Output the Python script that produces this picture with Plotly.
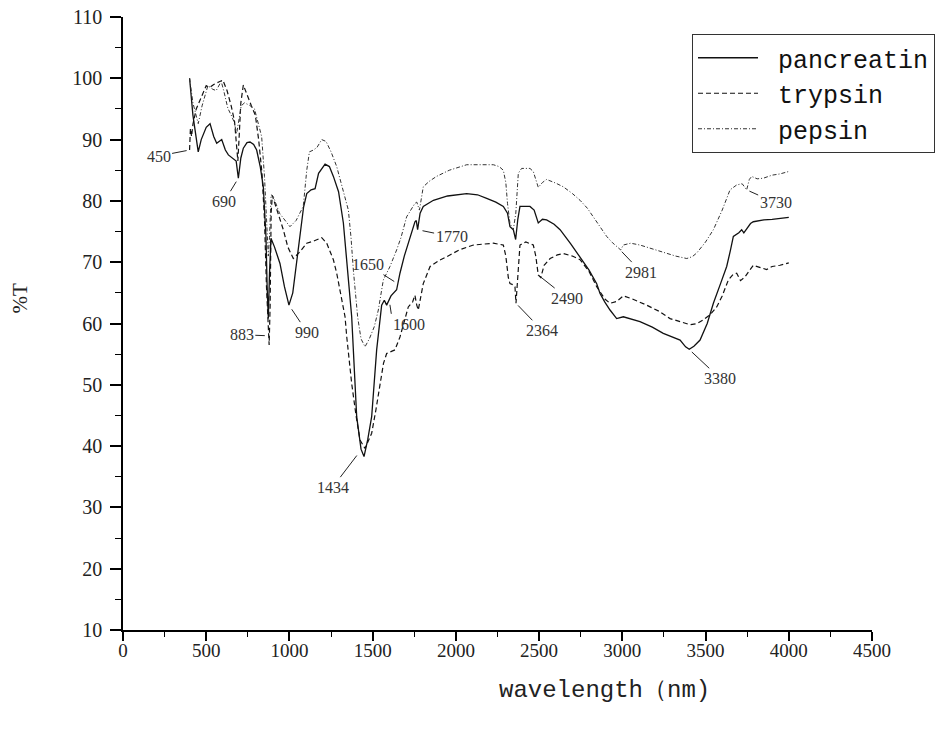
import plotly.graph_objects as go

# ---------------- data ----------------
panc_x = [400, 420, 452, 470, 500, 523, 545, 563, 593, 615, 633, 663, 680, 693, 708, 723, 745, 763, 785, 803,
          825, 843, 859, 866, 873, 880, 889, 910, 943, 970, 997, 1020, 1040, 1063, 1085, 1104, 1130, 1154, 1175,
          1214, 1240, 1264, 1295, 1324, 1350, 1374, 1404, 1430, 1448, 1470, 1494, 1524, 1554, 1570, 1584, 1610,
          1644, 1664, 1690, 1714, 1740, 1754, 1762, 1770, 1785, 1804, 1865, 1950, 2065, 2130, 2185, 2240, 2285,
          2310, 2325, 2345, 2359, 2372, 2385, 2445, 2470, 2495, 2520, 2545, 2590, 2626, 2690, 2746, 2800, 2846,
          2866, 2895, 2926, 2966, 3006, 3106, 3180, 3246, 3300, 3347, 3380, 3402, 3430, 3467, 3510, 3547, 3590,
          3627, 3650, 3667, 3700, 3717, 3730, 3747, 3770, 3787, 3850, 3900, 3947, 4000]
panc_y = [100, 94, 88, 90, 92, 92.6, 90.5, 89.4, 90.0, 88.3, 87.5, 86.9, 86.5, 83.7, 87, 88.6, 89.5, 89.6, 89.2, 88.3,
          85.5, 82.3, 74.2, 66, 60.8, 68, 73.9, 72.5, 69.8, 66, 63.0, 65, 69.5, 74.2, 79, 81.2, 81.8, 82.0, 84.5,
          86.0, 85.6, 84.0, 81.5, 76.4, 69, 61.1, 44.8, 39.5, 38.3, 41, 44.8, 55.7, 63.0, 63.8, 63.0, 64.5,
          65.5, 68.2, 71, 73.1, 75.5, 76.6, 76.8, 75.3, 78, 79.1, 80.1, 80.8, 81.2, 81, 80.4, 79.8, 79.1,
          78, 75.8, 75.3, 73.7, 77, 79.1, 79.1, 78.5, 76.4, 77, 76.9, 76.2, 75.3, 73, 70.9, 68.7, 66.5,
          64.9, 63.5, 62.2, 60.8, 61.1, 60.3, 59.4, 58.4, 57.8, 57.3, 56.2, 55.8, 56.3, 57.3, 60, 63.3, 66.5,
          69.3, 72, 74.2, 74.8, 75.3, 74.8, 75.5, 76.3, 76.6, 76.9, 77, 77.1, 77.3]

tryp_x = [400, 405, 412, 420, 440, 470, 500, 520, 545, 575, 600, 625, 650, 670, 685, 690, 697, 708, 723, 745,
          770, 795, 815, 835, 850, 862, 872, 878, 884, 890, 897, 920, 963, 990, 1023, 1063, 1104, 1150, 1194,
          1224, 1264, 1284, 1310, 1334, 1344, 1374, 1400, 1424, 1454, 1494, 1520, 1544, 1565, 1584, 1610, 1634,
          1664, 1690, 1714, 1740, 1754, 1765, 1774, 1790, 1804, 1845, 1900, 1945, 2020, 2105, 2225, 2285, 2300,
          2315, 2325, 2345, 2355, 2361, 2372, 2385, 2420, 2465, 2480, 2495, 2510, 2530, 2566, 2610, 2646, 2700,
          2746, 2800, 2846, 2866, 2895, 2926, 2966, 3006, 3060, 3146, 3220, 3287, 3350, 3407, 3450, 3487, 3530,
          3567, 3600, 3637, 3665, 3687, 3710, 3737, 3760, 3787, 3820, 3867, 3900, 3947, 4000]
tryp_y = [88.3, 91.8, 90.5, 92.5, 95, 97, 98.8, 98.5, 99, 99.4, 99.7, 98, 95.5, 93, 88, 86.5, 90, 96, 98.9, 97.5,
          95.6, 94, 90, 84.5, 77, 66, 59, 56.5, 63, 78, 80.9, 79, 75.3, 72.5, 70.6, 71.7, 73.1, 73.5, 74.0,
          73.1, 70.4, 68.2, 64.5, 61.1, 57.9, 50.2, 45, 41, 39.6, 42.1, 46, 50.2, 53.5, 55.1, 55.4, 55.7,
          57.8, 60.5, 62.7, 63.5, 64.6, 63, 62.2, 64.5, 66.5, 69.3, 70.3, 70.9, 72, 72.8, 73.1, 72.8, 71,
          67.5, 66.5, 66.3, 66, 63.3, 68, 72.8, 73.3, 72.8, 71, 67.9, 67.5, 69.5, 70.6, 71.2, 71.4, 71,
          70.4, 68.5, 66, 65.2, 64, 63.3, 63.6, 64.5, 64, 63, 62, 60.8, 60.3, 59.8, 60, 60.6, 61.5,
          62.7, 64.5, 67.1, 68, 68.2, 67, 67.6, 68.5, 69.5, 69.2, 68.8, 69.3, 69.5, 69.9]

peps_x = [400, 420, 452, 475, 510, 540, 560, 575, 590, 605, 630, 650, 667, 683, 695, 710, 730, 760, 790, 810,
          833, 850, 862, 873, 880, 890, 903, 940, 1003, 1040, 1083, 1104, 1120, 1144, 1165, 1194, 1220, 1250,
          1284, 1320, 1354, 1370, 1384, 1410, 1430, 1454, 1480, 1510, 1534, 1564, 1604, 1644, 1670, 1704, 1735,
          1754, 1765, 1781, 1795, 1804, 1840, 1884, 1960, 2065, 2225, 2260, 2285, 2300, 2310, 2325, 2345, 2360,
          2375, 2395, 2445, 2465, 2480, 2495, 2520, 2545, 2600, 2645, 2700, 2746, 2790, 2826, 2870, 2906, 2940,
          2976, 2990, 3006, 3050, 3106, 3180, 3246, 3320, 3387, 3420, 3447, 3500, 3547, 3600, 3647, 3687, 3720,
          3747, 3763, 3777, 3810, 3847, 3900, 3947, 4000]
peps_y = [100, 96, 92.6, 95.5, 98.8, 98.2, 98.0, 98.8, 99.5, 98, 95.1, 94, 92.9, 91, 93, 95.5, 96.0, 95.6, 95, 93,
          90.5, 84, 77, 71, 74, 81, 80.7, 78, 75.8, 76.8, 79.1, 85, 88, 88.3, 88.7, 90, 89.7, 88,
          85.6, 82, 78.5, 74, 68.7, 61, 57.5, 56.2, 57.5, 59.5, 62.2, 67.1, 69.3, 72, 74, 77.4, 78.8,
          79.6, 79.8, 78.5, 80.8, 82.3, 83.2, 84, 85, 85.9, 85.9, 85.6, 85, 83, 79.6, 76.3, 75.3, 78,
          84.5, 85.3, 85.3, 84.8, 83.5, 82.2, 83, 83.5, 82.9, 82.3, 81.2, 80.1, 78.8, 77.4, 75.6, 74.2, 73.2,
          72.3, 72, 72.8, 73.1, 72.8, 72.2, 71.7, 71, 70.6, 70.9, 71.5, 73.3, 75.3, 78.5, 81.8, 82.6, 82.8,
          81.8, 83.5, 84, 83.6, 83.7, 84.2, 84.4, 84.8]

series_names = ["pancreatin", "trypsin", "pepsin"]

# peak labels: text, target x, target y
peak_text = ["450", "690", "883", "990", "1434", "1650", "1600", "1770", "2364", "2490", "2981", "3380", "3730"]
peak_x = [400, 693, 870, 997, 1434, 1650, 1600, 1770, 2361, 2495, 2976, 3400, 3747]
peak_y = [88.3, 83.7, 58, 63.0, 39.5, 66.5, 63.7, 75.3, 63.3, 67.9, 72.3, 55.8, 81.8]

x_ticks = [0, 500, 1000, 1500, 2000, 2500, 3000, 3500, 4000, 4500]
y_ticks = [10, 20, 30, 40, 50, 60, 70, 80, 90, 100, 110]

# ---------------- figure ----------------
NB = "\u00a0"
fig = go.Figure()
fig.add_trace(go.Scatter(x=panc_x, y=panc_y, mode="lines", name=NB + series_names[0],
                         line=dict(color="#111111", width=1.3, dash="solid")))
fig.add_trace(go.Scatter(x=tryp_x, y=tryp_y, mode="lines", name=NB + series_names[1],
                         line=dict(color="#111111", width=1.2, dash="5px,3px")))
fig.add_trace(go.Scatter(x=peps_x, y=peps_y, mode="lines", name=NB + series_names[2],
                         line=dict(color="#333333", width=1.0, dash="4px,2px,1px,2px")))

# label offsets (pixels: text anchor relative to target point)
offsets = {
    "450": (-31, 6, 3, "center", "middle"),
    "690": (-14, 23, 4, "center", "middle"),
    "883": (-26, -1, 3, "center", "middle"),
    "990": (18, 27, 5, "center", "middle"),
    "1434": (-29, 38, 8, "center", "middle"),
    "1650": (-30, -19, 4, "center", "middle"),
    "1600": (2, 13, 4, "left", "top"),
    "1770": (34, 7, 5, "center", "middle"),
    "2364": (26, 27, 3, "center", "middle"),
    "2490": (29, 23, 1, "center", "middle"),
    "2981": (23, 24, 5, "center", "middle"),
    "3380": (31, 29, 4, "center", "middle"),
    "3730": (29, 13, 3, "center", "middle"),
}
for t, px, py in zip(peak_text, peak_x, peak_y):
    ax, ay, so, xa, ya = offsets[t]
    fig.add_annotation(x=px, y=py, text=t, showarrow=True, arrowhead=0, arrowwidth=1,
                       arrowcolor="#222222", ax=ax, ay=ay, standoff=so, xanchor=xa, yanchor=ya,
                       font=dict(family="Liberation Serif", size=16, color="#333333"))

# axis titles
fig.add_annotation(text="%T", xref="paper", yref="paper", x=-0.138, y=0.54, showarrow=False,
                   textangle=-90, xanchor="center", yanchor="middle",
                   font=dict(family="Liberation Serif", size=21, color="#222222"))
fig.add_annotation(text="wavelength（nm)", xref="paper", yref="paper", x=0.643, y=-0.098,
                   showarrow=False, xanchor="center", yanchor="middle",
                   font=dict(family="Liberation Mono", size=24, color="#222222"))

fig.update_layout(
    width=936, height=729,
    margin=dict(l=123, r=64, t=17, b=99, autoexpand=False),
    paper_bgcolor="white", plot_bgcolor="white",
    showlegend=True,
    legend=dict(xref="container", yref="container", x=692 / 936, y=1 - 34 / 729,
                xanchor="left", yanchor="top", bgcolor="white", bordercolor="#333333",
                borderwidth=1, itemwidth=60, tracegroupgap=0,
                font=dict(family="Liberation Mono", size=25, color="#111111")),
    xaxis=dict(range=[0, 4500], tickvals=x_ticks, showline=True, linecolor="black", linewidth=1.6,
               ticks="outside", ticklen=9, tickwidth=1.5, tickcolor="black", showgrid=False,
               zeroline=False, mirror=False, ticklabelstandoff=-7,
               tickfont=dict(family="Liberation Serif", size=19, color="#222222"),
               minor=dict(dtick=250, ticks="outside", ticklen=5, tickwidth=1.3, tickcolor="black")),
    yaxis=dict(range=[10, 110], tickvals=y_ticks, showline=True, linecolor="black", linewidth=1.6,
               ticks="outside", ticklen=11, tickwidth=1.5, tickcolor="black", showgrid=False,
               zeroline=False, ticklabelstandoff=4,
               tickfont=dict(family="Liberation Serif", size=20, color="#222222"),
               minor=dict(dtick=5, ticks="outside", ticklen=6, tickwidth=1.3, tickcolor="black")),
)

fig.write_html("out.html")
